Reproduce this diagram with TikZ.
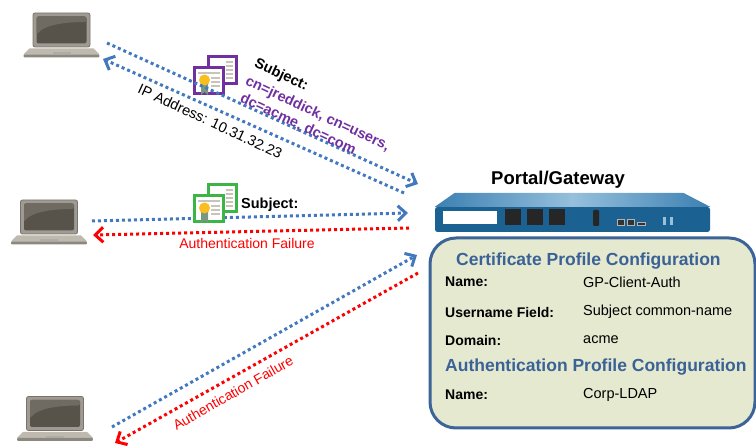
\documentclass[tikz,border=0pt]{standalone}
\usepackage{fontspec}
\setmainfont{Liberation Sans}
\usetikzlibrary{calc,arrows.meta,positioning}

\definecolor{flowblue}{RGB}{66,120,190}
\definecolor{failred}{RGB}{255,0,0}
\definecolor{subjpurple}{RGB}{112,48,160}
\definecolor{headblue}{RGB}{58,98,150}
\definecolor{boxfill}{RGB}{229,233,208}
\definecolor{boxedge}{RGB}{60,100,152}
\definecolor{gwfront}{RGB}{27,98,146}
\definecolor{gwlight}{RGB}{150,192,220}
\definecolor{gwmid}{RGB}{60,128,178}
\definecolor{framegray}{RGB}{160,155,146}
\definecolor{frameedge}{RGB}{120,116,108}
\definecolor{screendark}{RGB}{88,83,74}
\definecolor{screenlight}{RGB}{112,107,98}
\definecolor{deckgray}{RGB}{190,186,176}
\definecolor{basegray}{RGB}{140,136,128}
\definecolor{paperline}{RGB}{200,196,186}
\definecolor{sealyellow}{RGB}{250,190,30}
\definecolor{ribbon}{RGB}{120,150,130}
\definecolor{certgreen}{RGB}{60,180,70}

% laptop: screen node plus keyboard deck below it
\newcommand{\laptop}[2]{%
  \node[screen] (#1) at (#2) {};
  \fill[deckgray] ($(#1.south west)+(-3,1)$) -- ($(#1.south east)+(3,1)$) -- ($(#1.south east)+(9,7)$) -- ($(#1.south west)+(-9,7)$) -- cycle;
  \fill[basegray,rounded corners=1pt] ($(#1.south west)+(-9,7)$) rectangle ($(#1.south east)+(9,10)$);
  \fill[basegray!70] ($(#1.south)+(-9,7)$) rectangle ($(#1.south)+(9,5)$);
}

% certificate icon, #2 is the top left corner
\newcommand{\cert}[3]{%
  \begin{scope}[shift={(#2)}]
    \draw[#3,line width=2.5pt,fill=white] (15.5,1.5) rectangle (43.5,28.5);
    \foreach \yy in {7,11,15,19,23}
      \draw[paperline,line width=1.5pt] (33,\yy) -- (40,\yy);
    \draw[#3,line width=2.5pt,fill=white] (1.5,12.5) rectangle (30.5,38.5);
    \draw[paperline,line width=1.5pt] (5,18) -- (27,18);
    \foreach \yy in {23,27,31}
      \draw[paperline,line width=1.5pt] (18,\yy) -- (27,\yy);
    \fill[ribbon] (8,26) -- (15,26) -- (15,40) -- (11.5,37) -- (8,40) -- cycle;
    \fill[sealyellow] (11.5,25) circle (5.5);
    \coordinate (#1) at (22,20);
  \end{scope}
}

\tikzstyle{screen}=[rectangle,draw=frameedge,fill=framegray,line width=0.8pt,
  rounded corners=2pt,minimum width=57pt,minimum height=34pt,inner sep=0pt,
  path picture={
    \coordinate (nw) at (path picture bounding box.north west);
    \coordinate (se) at (path picture bounding box.south east);
    \fill[screendark] ($(nw)+(3.5,3.5)$) rectangle ($(se)+(-3.5,-3.5)$);
    \fill[screenlight] ($(nw)+(3.5,3.5)$) -- ($(nw -| se)+(-3.5,3.5)$) -- ($(nw -| se)+(-3.5,9)$)
      .. controls ($(nw)+(28,9)$) and ($(nw)+(10,13)$) .. ($(nw)+(3.5,22)$) -- cycle;
  }]
\tikzstyle{blueflow}=[draw=flowblue,line width=3pt,dash pattern=on 3pt off 3pt,
  -{Straight Barb[length=8pt,width=15pt]}]
\tikzstyle{redflow}=[blueflow,draw=failred]
\tikzstyle{faillabel}=[text=failred,font=\fontsize{14}{14}\selectfont,inner sep=0pt]
\tikzstyle{subjlabel}=[font=\fontsize{14.5}{14.5}\selectfont\bfseries,inner sep=0pt,anchor=west]
\tikzstyle{cfghead}=[text=headblue,font=\fontsize{17.5}{17.5}\selectfont\bfseries,inner sep=0pt,anchor=west]
\tikzstyle{cfgkey}=[font=\fontsize{14}{14}\selectfont\bfseries,inner sep=0pt,anchor=west]
\tikzstyle{cfgval}=[font=\fontsize{14.5}{14.5}\selectfont,inner sep=0pt,anchor=west]

\begin{document}
\begin{tikzpicture}[x=1pt,y=-1pt]
  \useasboundingbox (0,0) rectangle (756,446);
  \clip (0,0) rectangle (756,446);

  % clients
  \laptop{pc1}{61.5,30}
  \laptop{pc2}{49,217}
  \laptop{pc3}{55,413.5}

  % portal / gateway appliance
  \node[rectangle,fill=gwfront,rounded corners=2.5pt,minimum width=275pt,minimum height=25pt,inner sep=0pt] (gw) at (572.5,219.5) {};
  \shade[left color=gwmid,right color=gwmid,middle color=gwlight] (gw.north west) -- ($(gw.north west)+(20,-14)$) -- ($(gw.north east)+(-27,-14)$) -- (gw.north east) -- cycle;
  \fill[white] (443,211) rectangle (497,224);
  \foreach \xx in {505,527,549}
    \fill[black!85] (\xx,209) rectangle +(16,16);
  \fill[black!85,rounded corners=1pt] (593,210) rectangle (599,226);
  \draw[fill=black!80,draw=gray!60,line width=0.6pt] (617,219) rectangle (624,225);
  \draw[fill=black!80,draw=gray!60,line width=0.6pt] (627,219) rectangle (634,225);
  \draw[fill=black!80,draw=gray!60,line width=0.6pt] (637,222) rectangle (645,225);
  \fill[gwlight] (663,217) rectangle (666,225);
  \fill[gwlight] (670,217) rectangle (673,225);
  \node[font=\fontsize{18.5}{18.5}\selectfont\bfseries,inner sep=0pt] (gwname) at (558,180) {Portal/Gateway};

  % profile settings
  \node[rectangle,draw=boxedge,fill=boxfill,line width=3pt,rounded corners=26pt,
    minimum width=325pt,minimum height=190pt] (cfg) at (592.5,333) {};
  \node[cfghead] (certhead) at (456,261) {Certificate Profile Configuration};
  \node[cfgkey] (k1) at (445,282) {Name:};
  \node[cfgval] (v1) at (583,282) {GP-Client-Auth};
  \node[cfgkey] (k2) at (445,312) {Username Field:};
  \node[cfgval] (v2) at (583,312) {Subject common-name};
  \node[cfgkey] (k3) at (445,340) {Domain:};
  \node[cfgval] (v3) at (583,340) {acme};
  \node[cfghead] (authhead) at (445,367) {Authentication Profile Configuration};
  \node[cfgkey] (k4) at (445,395) {Name:};
  \node[cfgval] (v4) at (583,395) {Corp-LDAP};

  % top client: certificate accepted
  \cert{cert1}{193,55}{subjpurple}
  \coordinate (t1s) at (107,43);
  \coordinate (t1e) at (418,184);
  \coordinate (t2s) at (404,193);
  \coordinate (t2e) at (103,59);
  \draw[blueflow] (t1s) -- (t1e);
  \draw[blueflow] (t2s) -- (t2e);
  \node[subjlabel,rotate=-25] (subj1) at (255,63) {Subject:};
  \node[subjlabel,rotate=-25,text=subjpurple] (cn1) at (246,81) {cn=jreddick, cn=users,};
  \node[subjlabel,rotate=-25,text=subjpurple] (dc1) at (241,98) {dc=acme, dc=com};
  \node[inner sep=0pt,anchor=west,rotate=-25,font=\fontsize{14.5}{14.5}\selectfont] (ip1) at (139,88) {IP Address: 10.31.32.23};

  % middle client: certificate without a username
  \coordinate (m1s) at (92,221);
  \coordinate (m1e) at (408,213);
  \coordinate (m2s) at (409,228);
  \coordinate (m2e) at (93,235);
  \draw[blueflow] (m1s) -- (m1e);
  \draw[redflow] (m2s) -- (m2e);
  \cert{cert2}{193,183}{certgreen}
  \node[subjlabel] (subj2) at (241,205) {Subject:};
  \node[faillabel] (fail2) at (247,243) {Authentication Failure};

  % bottom client: no certificate
  \coordinate (b1s) at (112,427);
  \coordinate (b1e) at (417,255);
  \coordinate (b2s) at (418,273);
  \coordinate (b2e) at (115,443);
  \draw[blueflow] (b1s) -- (b1e);
  \draw[redflow] (b2s) -- (b2e);
  \node[faillabel,rotate=29.5] (fail3) at (233,393) {Authentication Failure};
\end{tikzpicture}
\end{document}
